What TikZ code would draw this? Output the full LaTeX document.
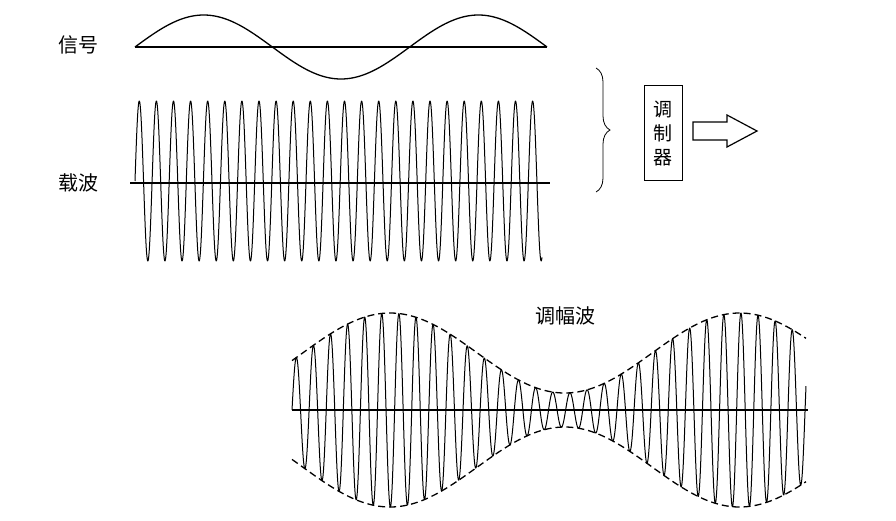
\documentclass[tikz,border=0pt]{standalone}
\usepackage{fontspec}
\newfontfamily\cjk{Noto Sans CJK SC}
\usetikzlibrary{decorations.pathreplacing}
\begin{document}
\begin{tikzpicture}[x=1pt,y=-1pt,
  wave/.style={line width=1.3pt,line join=round},
  axisln/.style={line width=1.6pt},
  lbl/.style={font=\cjk\fontsize{20}{20}\selectfont,inner sep=0pt}]
\useasboundingbox (0,0) rectangle (896,520);
% signal
\draw[axisln] (135,47) -- (547,47);
\draw[wave] plot[domain=135:547,samples=200] (\x,{47-32*sin((\x-135)*1.3105)});
\node[lbl] (s) at (78,45) {信号};
% carrier
\draw[axisln] (130,183) -- (550,183);
\draw[wave,line width=1pt] plot[domain=135:542,samples=1200] (\x,{181-80*sin((\x-135)*21.05)});
\node[lbl] (c) at (78,183) {载波};
% brace
\draw[line width=0.8pt,decorate,decoration={brace,amplitude=14pt}] (596,68) -- (596,192);
% modulator
\node[draw,line width=1pt,minimum width=38pt,minimum height=95pt,inner sep=2pt,align=center,font=\cjk\fontsize{19}{24}\selectfont] (m) at (663,133) {调\\制\\器};
\draw[line width=1.2pt,line join=miter] (693,122) -- (727,122) -- (727,115) -- (757,131) -- (727,147) -- (727,140) -- (693,140) -- cycle;
% AM
\node[lbl] (am) at (565,316) {调幅波};
\draw[axisln] (292,410) -- (808,410);
\draw[wave,line width=1pt] plot[domain=292:806,samples=1600] (\x,{410-(57+40*cos((\x-390)*1.03))*sin((\x-292)*21.05)});
\draw[line width=1.3pt,dash pattern=on 7pt off 4pt] plot[domain=292:806,samples=200] (\x,{410-(57+40*cos((\x-390)*1.03))});
\draw[line width=1.3pt,dash pattern=on 7pt off 4pt] plot[domain=292:806,samples=200] (\x,{410+(57+40*cos((\x-390)*1.03))});
\end{tikzpicture}
\end{document}
